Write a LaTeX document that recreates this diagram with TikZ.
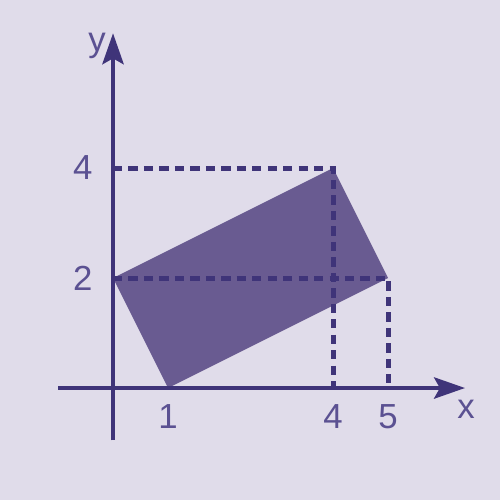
\documentclass[tikz,border=0pt]{standalone}
\usepackage{fontspec}
\setmainfont{Liberation Sans}
\usetikzlibrary{arrows.meta}
\definecolor{bgcol}{HTML}{E0DCEA}
\definecolor{axiscol}{HTML}{3F3479}
\definecolor{labcol}{HTML}{5B5192}
\definecolor{fillcol}{HTML}{695B91}
\tikzset{
  axisline/.style={axiscol, line width=2.1pt, -{Stealth[length=16pt, width=11pt, inset=3pt]}},
  guide/.style={axiscol, line width=2.6pt, dash pattern=on 4.8pt off 3.2pt},
  ticklabel/.style={labcol, font=\fontsize{18}{20}\selectfont, inner sep=0pt}
}
\begin{document}
\begin{tikzpicture}
  % Background and fixed margins
  \fill[bgcol] (-2.055,-2.036) rectangle (7.036,7.055);
  \useasboundingbox (-2.055,-2.036) rectangle (7.036,7.055);
  % Corners of the rectangle
  \coordinate (A) at (1,0);
  \coordinate (B) at (5,2);
  \coordinate (C) at (4,4);
  \coordinate (D) at (0,2);
  % Feet of the guide lines
  \coordinate (Cx) at (4,0);
  \coordinate (Cy) at (0,4);
  \coordinate (Bx) at (5,0);
  % Filled rectangle
  \fill[fillcol] (A) -- (B) -- (C) -- (D) -- cycle;
  % Dashed guide lines
  \draw[guide] (Cy) -- (C) -- (Cx);
  \draw[guide] (D) -- (B) -- (Bx);
  % Axes
  \coordinate (xs) at (-1.0,0);
  \coordinate (xe) at (6.4,0);
  \coordinate (ys) at (0,-0.95);
  \coordinate (ye) at (0,6.45);
  \draw[axisline] (xs) -- (xe);
  \draw[axisline] (ys) -- (ye);
  % Axis names
  \node[ticklabel] (xlab) at (6.42,-0.38) {x};
  \node[ticklabel] (ylab) at (-0.29,6.22) {y};
  % Tick labels
  \node[ticklabel] (l1) at (1,-0.52) {1};
  \node[ticklabel] (l4) at (4,-0.52) {4};
  \node[ticklabel] (l5) at (5,-0.52) {5};
  \node[ticklabel] (l2) at (-0.55,2) {2};
  \node[ticklabel] (l4y) at (-0.55,4) {4};
\end{tikzpicture}
\end{document}
